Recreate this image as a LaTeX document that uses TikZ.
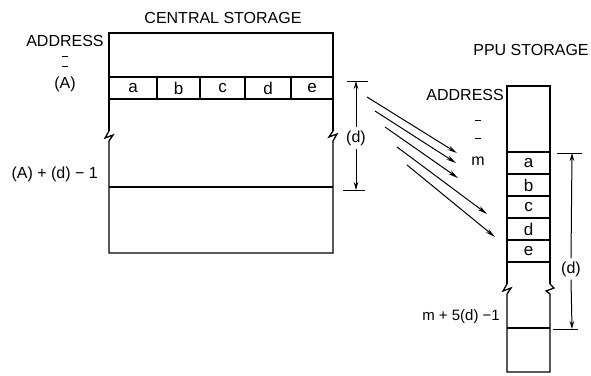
\documentclass[tikz,border=0pt]{standalone}
\usepackage{fontspec}
\setmainfont{Liberation Sans}
\usetikzlibrary{arrows.meta}
\begin{document}
\begin{tikzpicture}[x=1pt,y=-1pt,
  lbl/.style={inner sep=0pt,font=\fontsize{16}{16}\selectfont},
  cell/.style={inner sep=0pt,font=\fontsize{17}{17}\selectfont},
  box/.style={line width=1.3pt},
  dim/.style={line width=1pt},
  dimarrow/.style={line width=1pt,-{Stealth[length=8pt,width=4.5pt]}},
  xfer/.style={line width=1pt,-{Stealth[length=10pt,width=4.5pt]}},
  tickmark/.style={line width=1pt}]
\useasboundingbox (0,0) rectangle (591,375);

% ---------- central storage ----------
\node[lbl] (cstitle) at (223,18) {CENTRAL STORAGE};
\draw[box] (109,131) -- (109,33) -- (333,33) -- (333,131);
\draw[box] (109,131) -- (105,138) -- (113,135) -- (109,141) -- (109,253) -- (333,253) -- (333,141) -- (337,134) -- (329,137) -- (333,131);
\draw[box] (109,77) -- (333,77);
\draw[box] (109,99) -- (333,99);
\draw[box] (109,187) -- (333,187);
\foreach \x in {157,200,245,291} \draw[box] (\x,77) -- (\x,99);
\node[cell] (ca) at (133,88) {a};
\node[cell] (cb) at (178.5,88) {b};
\node[cell] (cc) at (222.5,88) {c};
\node[cell] (cd) at (268,88) {d};
\node[cell] (ce) at (312,88) {e};

\node[lbl] (caddr) at (65,41) {ADDRESS};
\draw[tickmark] (62,56) -- (68,56);
\draw[tickmark] (62,66) -- (68,66);
\node[lbl] (cA) at (65,84) {(A)};
\node[lbl,anchor=east] (cAd) at (98,174) {(A) + (d) − 1};

% left dimension
\draw[dim] (347,81) -- (368,81);
\draw[dim] (343,190) -- (365,190);
\node[lbl] (d1) at (356,138) {(d)};
\draw[dimarrow] (d1.north) ++(0,-3) -- (356,81);
\draw[dimarrow] (d1.south) ++(0,3) -- (356,190);

% ---------- PPU storage ----------
\node[lbl] (pptitle) at (531,50) {PPU STORAGE};
\draw[box] (507,284) -- (507,86) -- (550,86) -- (550,284);
\draw[box] (507,284) -- (503,291) -- (511,288) -- (507,294) -- (507,372) -- (550,372) -- (550,294) -- (546,291) -- (554,288) -- (550,284);
\foreach \y in {152,174,196,218,240,262,328} \draw[box] (507,\y) -- (550,\y);
\node[cell] (pa) at (528.5,163) {a};
\node[cell] (pb) at (528.5,185) {b};
\node[cell] (pc) at (528.5,207) {c};
\node[cell] (pd) at (528.5,229) {d};
\node[cell] (pe) at (528.5,251) {e};

\node[lbl,anchor=east] (paddr) at (504,95) {ADDRESS};
\draw[tickmark] (475,120) -- (481,120);
\draw[tickmark] (475,138) -- (481,138);
\node[lbl] (pm) at (478,161) {m};
\node[lbl,anchor=east,font=\fontsize{15}{15}\selectfont] (pmd) at (500,317) {m + 5(d) −1};

% right dimension
\draw[dim] (557,153) -- (582,153);
\draw[dim] (553,329) -- (578,329);
\node[lbl] (d2) at (571,269) {(d)};
\draw[dimarrow] (d2.north) ++(0,-3) -- (572,153);
\draw[dimarrow] (d2.south) ++(0,3) -- (572,329);

% ---------- transfer arrows ----------
\coordinate (s1) at (367,97);  \coordinate (t1) at (457,153);
\coordinate (s2) at (375,111); \coordinate (t2) at (456,163);
\coordinate (s3) at (385,127); \coordinate (t3) at (458,178);
\coordinate (s4) at (397,147); \coordinate (t4) at (487,214);
\coordinate (s5) at (407,165); \coordinate (t5) at (495,237);
\foreach \i in {1,...,5} \draw[xfer] (s\i) -- (t\i);
\end{tikzpicture}
\end{document}
